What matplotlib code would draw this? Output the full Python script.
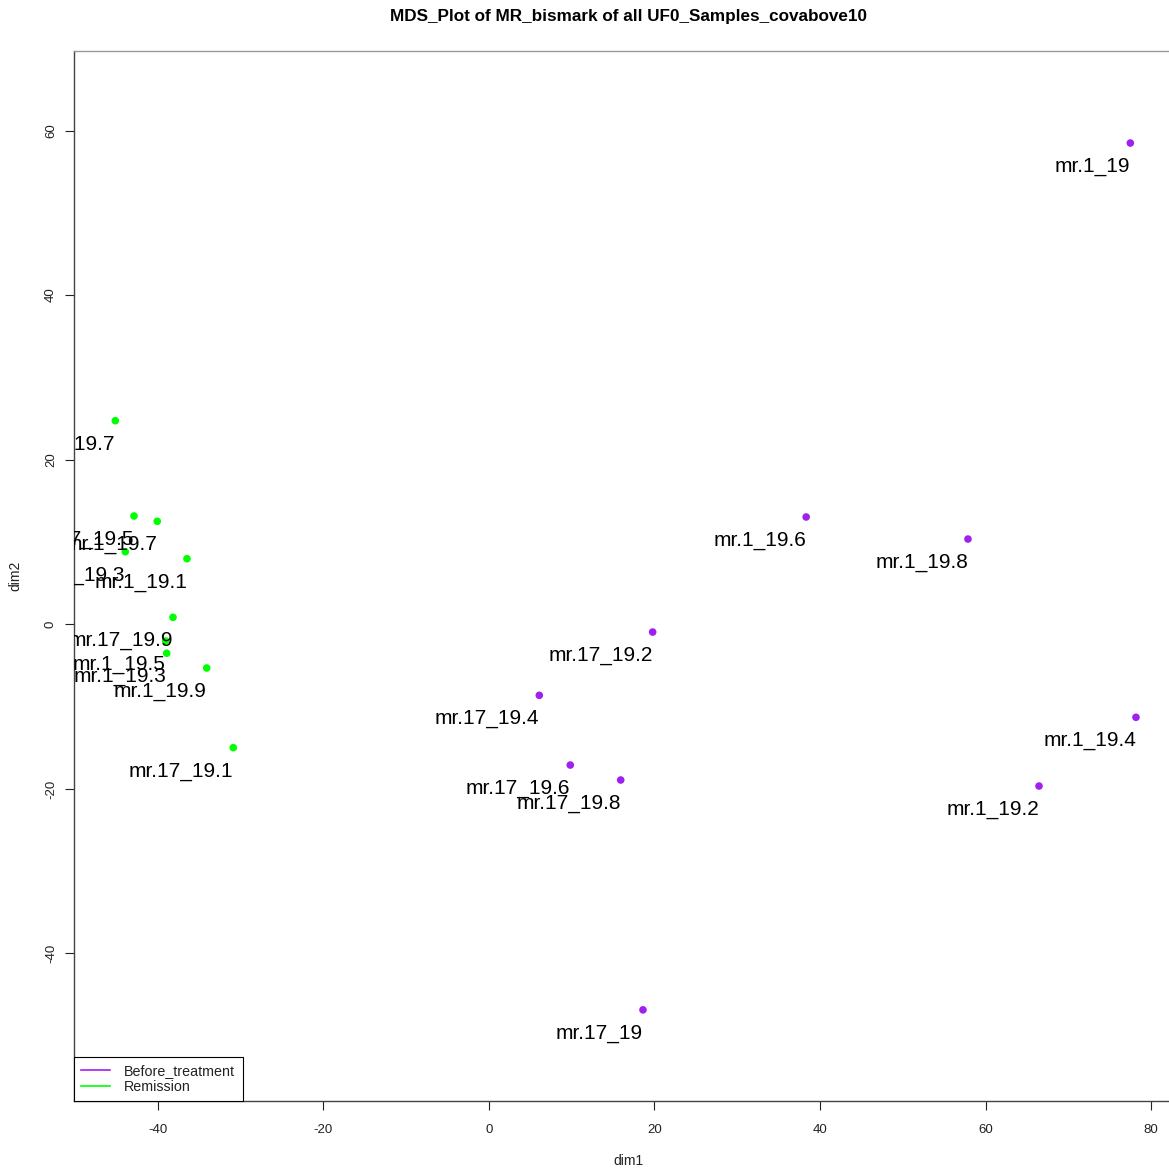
import matplotlib
matplotlib.use("Agg")
import matplotlib.pyplot as plt
from matplotlib.lines import Line2D

plt.rcParams['font.family'] = ['Liberation Sans', 'DejaVu Sans']

# ---- data ----
before_names = ["mr.1_19", "mr.1_19.6", "mr.1_19.8", "mr.17_19.2", "mr.17_19.4",
                "mr.17_19.6", "mr.17_19.8", "mr.1_19.4", "mr.1_19.2", "mr.17_19"]
before_dim1 = [77.48, 38.33, 57.87, 19.79, 6.10, 9.84, 15.93, 78.16, 66.45, 18.62]
before_dim2 = [58.48, 13.04, 10.36, -0.94, -8.63, -17.10, -18.92, -11.30, -19.65, -46.85]

remission_names = ["mr.17_19.7", "mr.17_19.5", "mr.1_19.7", "mr.17_19.3", "mr.1_19.1",
                   "mr.17_19.9", "mr.1_19.5", "mr.1_19.3", "mr.1_19.9", "mr.17_19.1"]
remission_dim1 = [-45.11, -42.85, -40.04, -43.90, -36.45, -38.14, -39.02, -38.90, -34.07, -30.86]
remission_dim2 = [24.74, 13.16, 12.52, 8.82, 7.97, 0.85, -2.03, -3.52, -5.31, -14.99]

groups = ["Before_treatment", "Remission"]
group_colors = ["#A020F0", "#00FF00"]

xticks = [-40, -20, 0, 20, 40, 60, 80]
yticks = [-40, -20, 0, 20, 40, 60]

# ---- figure ----
W = 1169
fig = plt.figure(figsize=(W / 100, W / 100), dpi=100)
left_px, right_px, top_px, bot_px = 74.3, 1183.0, 50.7, 1101.3
ax = fig.add_axes([left_px / W, 1 - bot_px / W,
                   (right_px - left_px) / W, (bot_px - top_px) / W])
ax.set_xlim(-50.06, 83.84)
ax.set_ylim(-57.96, 69.70)

for names, xs, ys, col in [(before_names, before_dim1, before_dim2, group_colors[0]),
                           (remission_names, remission_dim1, remission_dim2, group_colors[1])]:
    ax.scatter(xs, ys, s=30, color=col, edgecolors='none', zorder=3)
    for n, x, y in zip(names, xs, ys):
        t = ax.annotate(n, (x, y), xytext=(0, -17.0), textcoords='offset points',
                        ha='right', va='center', fontsize=15, color='black',
                        annotation_clip=False, zorder=4)
        t.set_clip_on(True)
        t.set_clip_path(ax.patch)

ax.set_xticks(xticks)
ax.set_yticks(yticks)
ax.set_xticklabels([str(v) for v in xticks])
ax.set_yticklabels([str(v) for v in yticks], rotation=90, va='center')
ax.tick_params(axis='x', length=6.5, width=0.8, pad=10, labelsize=9.5, colors='#222222')
ax.tick_params(axis='y', length=6.5, width=0.8, pad=6, labelsize=9.5, colors='#222222')

for side in ['left', 'bottom', 'top']:
    ax.spines[side].set_color('#444444')
    ax.spines[side].set_linewidth(1.0)
ax.spines['top'].set_color('#999999')
ax.spines['right'].set_visible(False)

ax.set_xlabel("dim1", fontsize=10, color='#222222', va='center')
ax.set_ylabel("dim2", fontsize=10, color='#222222', va='center')
ax.xaxis.set_label_coords(0.5, (bot_px - 1161) / (bot_px - top_px))
ax.yaxis.set_label_coords((15 - left_px) / (right_px - left_px), 0.5)

ax.text(0.5, 1 + (top_px - 16) / (bot_px - top_px),
        "MDS_Plot of MR_bismark of all UF0_Samples_covabove10",
        transform=ax.transAxes, ha='center', va='center',
        fontsize=12.3, fontweight='bold', clip_on=False)

handles = [Line2D([], [], color=c, lw=1.2) for c in group_colors]
leg = ax.legend(handles, groups, loc='lower left', borderaxespad=0, fontsize=10.3,
                frameon=True, fancybox=False, edgecolor='black', framealpha=1,
                handlelength=2.0, handletextpad=1.0, borderpad=0.5, labelspacing=0.15)
leg.get_frame().set_linewidth(0.8)
for t in leg.get_texts():
    t.set_color('#222222')

fig.savefig("out.png", dpi=100)
